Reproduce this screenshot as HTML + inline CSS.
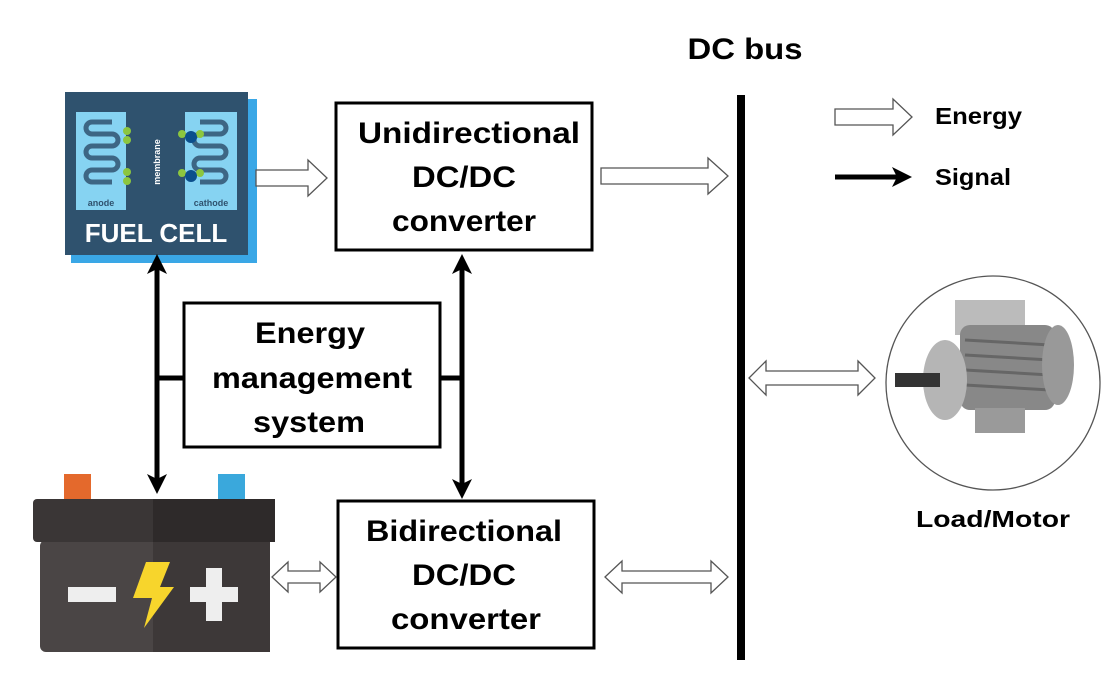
<!DOCTYPE html>
<html><head><style>body{margin:0;background:#fff}svg{display:block}text{font-family:"Liberation Sans",sans-serif}</style></head><body>
<svg width="1107" height="678" viewBox="0 0 1107 678" xmlns="http://www.w3.org/2000/svg">
<defs>
<marker id="ah" markerWidth="4" markerHeight="4" refX="2" refY="2" orient="auto-start-reverse" markerUnits="strokeWidth"><path d="M0,0 L4,2 L0,4 L1,2 z" fill="#000"/></marker>
</defs>
<rect x="71" y="99" width="186" height="164" fill="#3aa7e6"/>
<rect x="65" y="92" width="183" height="163" fill="#2f526e"/>
<rect x="76" y="112" width="50" height="98" fill="#86d3f2"/>
<rect x="185" y="112" width="52" height="98" fill="#86d3f2"/>
<path d="M112,122 H92 a6,6 0 0 0 0,12 H112 a6,6 0 0 1 0,12 H92 a6,6 0 0 0 0,12 H112 a6,6 0 0 1 0,12 H92 a6,6 0 0 0 0,12 H112" fill="none" stroke="#3d6684" stroke-width="5"/>
<path d="M200,122 H220 a6,6 0 0 1 0,12 H200 a6,6 0 0 0 0,12 H220 a6,6 0 0 1 0,12 H200 a6,6 0 0 0 0,12 H220 a6,6 0 0 1 0,12 H200" fill="none" stroke="#3d6684" stroke-width="5"/>
<g fill="#8cc63f"><circle cx="127" cy="131" r="4"/><circle cx="127" cy="140" r="4"/><circle cx="127" cy="172" r="4"/><circle cx="127" cy="181" r="4"/><circle cx="182" cy="134" r="4"/><circle cx="200" cy="134" r="4"/><circle cx="182" cy="173" r="4"/><circle cx="200" cy="173" r="4"/></g>
<g fill="#0b4f8c"><circle cx="191" cy="137" r="6"/><circle cx="191" cy="176" r="6"/></g>
<text x="101" y="206" font-size="9" fill="#2f526e" font-weight="bold" text-anchor="middle">anode</text>
<text x="211" y="206" font-size="9" fill="#2f526e" font-weight="bold" text-anchor="middle">cathode</text>
<text transform="translate(160,162) rotate(-90)" font-size="9" fill="#fff" font-weight="bold" text-anchor="middle">membrane</text>
<text x="156" y="242" font-size="26" fill="#fff" font-weight="bold" text-anchor="middle">FUEL CELL</text>
<g fill="#fff" stroke="#000" stroke-width="3">
<rect x="336" y="103" width="256" height="147"/>
<rect x="184" y="303" width="256" height="144"/>
<rect x="338" y="501" width="256" height="147"/>
</g>
<g font-size="30" font-weight="bold" text-anchor="middle" fill="#000" lengthAdjust="spacingAndGlyphs">
<text x="469" y="143" textLength="222" lengthAdjust="spacingAndGlyphs">Unidirectional</text><text x="464" y="187" textLength="104" lengthAdjust="spacingAndGlyphs">DC/DC</text><text x="464" y="231" textLength="144" lengthAdjust="spacingAndGlyphs">converter</text>
<text x="310" y="343" textLength="110" lengthAdjust="spacingAndGlyphs">Energy</text><text x="312" y="388" textLength="200" lengthAdjust="spacingAndGlyphs">management</text><text x="309" y="432" textLength="112" lengthAdjust="spacingAndGlyphs">system</text>
<text x="464" y="541" textLength="196" lengthAdjust="spacingAndGlyphs">Bidirectional</text><text x="464" y="585" textLength="104" lengthAdjust="spacingAndGlyphs">DC/DC</text><text x="466" y="629" textLength="150" lengthAdjust="spacingAndGlyphs">converter</text>
<text x="745" y="59" textLength="115" lengthAdjust="spacingAndGlyphs">DC bus</text>
</g>
<line x1="741" y1="95" x2="741" y2="660" stroke="#000" stroke-width="8"/>
<g fill="#fff" stroke="#555" stroke-width="1.3">
<path d="M256,170 H308 V160 L327,178 L308,196 V186 H256 z"/>
<path d="M601,168 H708 V158 L728,176 L708,194 V184 H601 z"/>
<path d="M835,109 H893 V99 L912,117 L893,135 V125 H835 z"/>
<path d="M749,378 L766,361 V371 H858 V361 L875,378 L858,395 V385 H766 V395 z"/>
<path d="M272,577 L288,562 V571 H320 V562 L336,577 L320,592 V583 H288 V592 z"/>
<path d="M605,577 L622,561 V571 H711 V561 L728,577 L711,593 V583 H622 V593 z"/>
</g>
<g stroke="#000" stroke-width="5" fill="none">
<line x1="157" y1="264" x2="157" y2="484" marker-start="url(#ah)" marker-end="url(#ah)"/>
<line x1="462" y1="264" x2="462" y2="489" marker-start="url(#ah)" marker-end="url(#ah)"/>
<line x1="157" y1="378" x2="184" y2="378"/>
<line x1="440" y1="378" x2="462" y2="378"/>
<line x1="835" y1="177" x2="902" y2="177" marker-end="url(#ah)"/>
</g>
<g font-size="23" font-weight="bold" fill="#000">
<text x="935" y="124" textLength="87" lengthAdjust="spacingAndGlyphs">Energy</text><text x="935" y="185" textLength="76" lengthAdjust="spacingAndGlyphs">Signal</text>
<text x="916" y="527" textLength="154" lengthAdjust="spacingAndGlyphs">Load/Motor</text>
</g>
<circle cx="993" cy="383" r="107" fill="#fff" stroke="#555" stroke-width="1.3"/>
<rect x="955" y="300" width="70" height="35" fill="#bbb"/>
<rect x="960" y="325" width="95" height="85" rx="10" fill="#888"/>
<g stroke="#666" stroke-width="3"><line x1="965" y1="340" x2="1050" y2="345"/><line x1="965" y1="355" x2="1050" y2="360"/><line x1="965" y1="370" x2="1050" y2="375"/><line x1="965" y1="385" x2="1050" y2="390"/></g>
<ellipse cx="1058" cy="365" rx="16" ry="40" fill="#999"/>
<ellipse cx="945" cy="380" rx="22" ry="40" fill="#b5b5b5"/>
<rect x="895" y="373" width="45" height="14" fill="#333"/>
<rect x="975" y="408" width="50" height="25" fill="#9a9a9a"/>
<rect x="64" y="474" width="27" height="27" fill="#e4692c"/>
<rect x="218" y="474" width="27" height="27" fill="#3aa8dc"/>
<rect x="40" y="540" width="230" height="112" rx="6" fill="#4a4545"/>
<rect x="153" y="540" width="117" height="112" fill="#3d3838"/>
<rect x="33" y="499" width="242" height="43" rx="4" fill="#3a3636"/>
<rect x="153" y="499" width="122" height="43" fill="#2e2a2a"/>
<rect x="68" y="587" width="48" height="15" fill="#eee"/>
<rect x="190" y="587" width="48" height="15" fill="#eee"/>
<rect x="206" y="568" width="16" height="53" fill="#eee"/>
<path d="M146,562 H170 L160,587 H174 L144,628 L152,598 H133 z" fill="#f7d52c"/>
</svg>
</body></html>
